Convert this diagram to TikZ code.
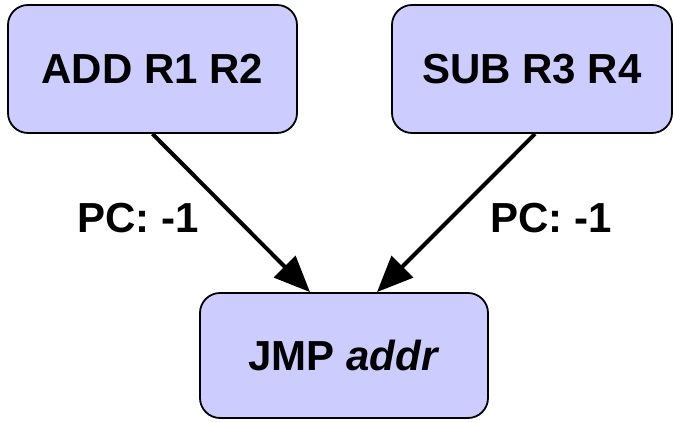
\documentclass[tikz,border=0pt]{standalone}
\usepackage{fontspec}
\setmainfont{Liberation Sans}
\usetikzlibrary{arrows.meta}
\definecolor{boxfill}{HTML}{CCCCFF}
\tikzset{
  opbox/.style={draw=black, line width=1.8pt, fill=boxfill, rounded corners=20pt,
    minimum width=#1, minimum height=128pt, inner sep=0pt,
    font=\fontsize{42}{48}\selectfont\bfseries},
  opbox/.default=289pt,
  flow/.style={line width=4pt, -{Triangle[length=36pt,width=30pt]}},
  pclabel/.style={font=\fontsize{42}{48}\selectfont\bfseries, inner sep=0pt}
}
\begin{document}
\begin{tikzpicture}[x=1pt,y=1pt]
\useasboundingbox (0,0) rectangle (673,422);
\node[opbox] (A) at (152.5,353) {ADD R1 R2};
\node[opbox=280pt] (B) at (532,353) {SUB R3 R4};
\node[opbox=288pt, minimum height=125pt] (C) at (344,66.5) {JMP \textit{addr}};
\draw[flow] (A.south) -- ([xshift=-34pt]C.north);
\draw[flow] ([xshift=3pt]B.south) -- ([xshift=33pt]C.north);
\node[pclabel] (L1) at (138,204) {PC: -1};
\node[pclabel] (L2) at (551,204) {PC: -1};
\end{tikzpicture}
\end{document}
